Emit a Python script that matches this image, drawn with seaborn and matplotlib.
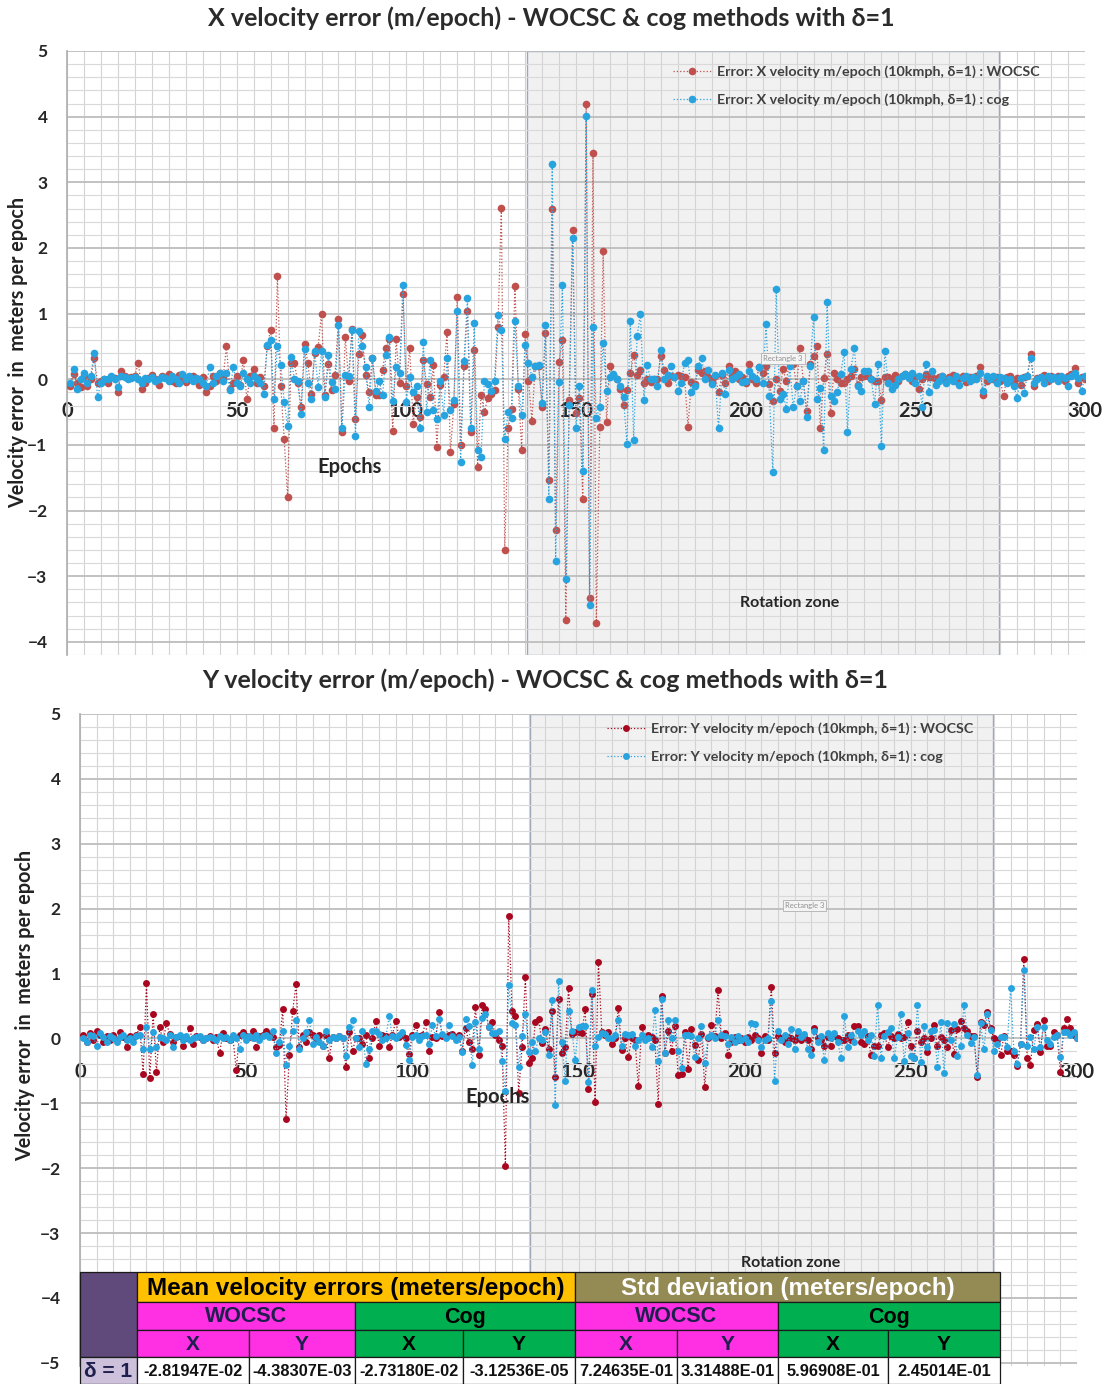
import numpy as np
import pandas as pd
import matplotlib
matplotlib.use('Agg')
import matplotlib.pyplot as plt
from matplotlib.patches import Rectangle
from matplotlib.ticker import MultipleLocator
import seaborn as sns

epochs = np.arange(1, 301)

# X velocity error, WOCSC (epochs 1..300)
x_wocsc = [
    -0.10, 0.08, -0.05, -0.12, 0.05, -0.10, 0.00, 0.33, -0.05, -0.02,
    0.00, -0.05, 0.03, 0.02, -0.20, 0.12, 0.05, 0.02, 0.03, 0.05,
    0.25, -0.15, -0.05, 0.02, 0.06, 0.00, -0.08, 0.05, 0.04, 0.08,
    -0.03, -0.05, 0.07, 0.02, -0.04, 0.00, 0.05, 0.02, -0.08, 0.03,
    -0.19, -0.10, 0.05, -0.03, 0.10, 0.02, 0.50, -0.15, -0.05, 0.05,
    -0.08, 0.30, -0.30, 0.05, 0.15, -0.05, 0.03, -0.10, 0.50, 0.75,
    -0.74, 1.58, -0.10, -0.91, -1.79, 0.25, 0.25, -0.05, -0.42, 0.53,
    0.25, -0.23, 0.40, 0.49, 1.00, -0.24, 0.24, -0.17, 0.07, 0.92,
    -0.81, 0.65, -0.03, 0.76, -0.60, 0.39, 0.67, 0.07, -0.20, 0.33,
    -0.24, -0.24, 0.14, 0.48, 0.62, -0.79, 0.61, -0.05, 1.30, -0.10,
    0.48, -0.68, -0.27, -0.58, 0.29, -0.07, -0.27, 0.21, -1.03, -0.09,
    0.04, 0.72, -1.11, -0.38, 1.26, -1.00, 0.20, 1.04, -0.81, 0.45,
    -1.33, -0.24, -0.50, -0.28, -0.23, -0.16, 0.79, 2.61, -2.60, -0.74,
    -0.46, 1.42, -0.15, -1.07, 0.69, -0.02, -0.63, 0.20, 0.20, -0.42,
    0.71, -1.54, 2.60, -2.30, 0.26, 0.60, -3.66, -0.31, 2.28, -0.52,
    -0.28, -1.83, 4.19, -3.33, 3.45, -3.72, -0.73, 1.95, -0.65, 0.20,
    0.06, 0.00, -0.15, -0.39, -0.16, 0.09, 0.37, 0.06, 0.14, -0.06,
    0.01, -0.04, 0.00, 0.00, 0.36, 0.14, -0.06, 0.05, 0.03, 0.06,
    0.05, 0.03, -0.72, -0.04, -0.07, 0.14, 0.09, 0.13, 0.04, -0.02,
    0.05, -0.20, 0.06, -0.05, 0.20, 0.05, 0.12, 0.00, 0.03, -0.05,
    0.23, 0.00, -0.05, 0.18, 0.10, 0.20, -0.07, -0.33, 0.00, -0.18,
    0.15, -0.03, 0.30, 0.24, -0.10, 0.47, -0.03, -0.48, 0.23, 0.36,
    0.50, -0.74, 0.02, 0.39, -0.51, 0.10, 0.00, -0.05, -0.05, 0.00,
    0.05, 0.16, -0.08, 0.03, 0.05, 0.05, 0.00, -0.03, -0.03, -0.31,
    0.03, 0.03, 0.00, 0.06, -0.02, 0.05, 0.08, 0.04, -0.03, 0.03,
    -0.15, 0.00, 0.08, 0.03, 0.03, 0.00, 0.03, 0.05, -0.02, 0.04,
    0.06, -0.03, 0.02, 0.05, -0.04, 0.03, 0.00, 0.05, 0.18, -0.24,
    -0.03, 0.02, 0.00, 0.04, -0.02, -0.25, 0.03, 0.05, -0.05, 0.02,
    -0.08, 0.03, 0.05, 0.38, -0.10, 0.02, 0.04, 0.06, -0.03, 0.05,
    0.02, 0.05, 0.03, -0.02, 0.05, 0.08, 0.17, -0.05, 0.03, 0.00,
]

# X velocity error, cog
x_cog = [
    -0.05, 0.15, -0.15, 0.00, 0.10, -0.05, 0.05, 0.40, -0.27, -0.05,
    0.00, 0.00, 0.05, 0.00, -0.12, 0.05, 0.03, 0.00, 0.02, 0.03,
    0.00, -0.05, 0.02, 0.00, 0.03, -0.02, 0.00, 0.04, 0.02, -0.03,
    0.05, 0.00, -0.05, 0.08, 0.00, 0.05, -0.03, 0.02, 0.00, -0.05,
    -0.10, 0.18, -0.05, 0.05, 0.10, -0.03, 0.10, -0.17, 0.18, -0.05,
    -0.10, 0.10, 0.00, -0.05, 0.05, 0.00, -0.05, -0.23, 0.52, 0.60,
    -0.30, 0.50, 0.22, -0.34, -0.71, 0.34, 0.00, -0.03, -0.53, 0.46,
    -0.05, -0.30, 0.43, -0.12, 0.43, -0.27, 0.37, -0.04, -0.15, 0.82,
    -0.75, 0.06, 0.05, 0.75, -0.87, 0.74, 0.50, 0.18, -0.42, 0.32,
    -0.18, -0.03, -0.24, 0.37, 0.65, -0.33, 0.18, 0.10, 1.44, -0.34,
    0.04, -0.20, -0.11, -0.74, 0.57, -0.50, 0.29, -0.47, -0.61, -0.03,
    -0.54, 0.33, -0.47, -0.31, 1.04, -1.26, 0.28, 1.24, -0.74, 0.86,
    -1.07, -1.18, -0.02, -0.07, -0.18, -0.02, 0.98, 0.75, -0.91, -0.50,
    -0.59, 0.88, -0.10, -0.55, 0.52, 0.25, 0.04, 0.20, 0.22, -0.36,
    0.83, -1.82, 3.28, -2.77, -0.04, 1.43, -3.05, -0.39, 2.15, -0.74,
    -0.10, -1.40, 4.01, -3.44, 0.79, -0.59, -0.43, 0.55, -0.18, 0.04,
    0.08, 0.00, -0.11, -0.27, -0.99, 0.89, -0.93, 0.66, 0.99, -0.31,
    0.21, 0.00, 0.00, -0.10, 0.45, 0.00, 0.06, 0.20, 0.03, -0.18,
    -0.05, 0.25, 0.29, -0.20, -0.10, 0.20, 0.33, 0.01, 0.14, -0.07,
    0.06, -0.75, 0.09, -0.23, 0.14, 0.01, 0.04, 0.08, -0.04, -0.02,
    0.13, 0.05, 0.00, 0.18, -0.05, 0.84, -0.25, -1.41, 1.37, -0.30,
    -0.23, -0.45, 0.20, -0.42, -0.10, -0.33, -0.03, -0.58, 0.20, 0.95,
    -0.30, -0.13, -1.08, 1.17, -0.25, -0.33, -0.20, 0.08, 0.41, -0.80,
    0.16, 0.47, -0.10, -0.18, 0.13, 0.13, 0.00, -0.37, 0.23, -1.02,
    0.43, -0.05, -0.15, -0.08, 0.00, 0.05, 0.08, 0.02, 0.10, -0.05,
    0.05, -0.42, 0.24, -0.19, 0.13, -0.08, -0.03, 0.05, -0.05, 0.00,
    -0.03, 0.05, -0.08, 0.02, 0.05, -0.02, 0.03, 0.00, 0.10, -0.18,
    0.05, 0.00, 0.05, -0.05, 0.03, 0.02, -0.05, 0.00, -0.10, -0.28,
    0.02, -0.21, 0.05, 0.33, -0.05, 0.00, 0.03, -0.05, 0.05, 0.00,
    0.03, -0.02, 0.05, 0.02, -0.10, 0.05, 0.10, 0.02, -0.18, 0.05,
]

# Y velocity error, WOCSC
y_wocsc = [
    0.05, -0.05, 0.08, -0.03, 0.12, 0.05, -0.05, 0.03, -0.02, 0.05,
    -0.03, 0.10, 0.02, -0.14, 0.03, 0.00, 0.05, 0.17, -0.55, 0.85,
    -0.61, 0.38, -0.52, 0.17, -0.05, 0.23, 0.07, -0.06, 0.02, 0.03,
    -0.12, 0.00, 0.16, -0.09, 0.03, 0.02, -0.02, 0.00, 0.03, -0.02,
    0.02, -0.23, 0.08, 0.00, -0.03, 0.02, -0.48, 0.05, 0.10, 0.03,
    0.02, 0.11, -0.13, 0.03, 0.05, 0.11, 0.05, 0.02, -0.14, -0.10,
    0.46, -1.24, -0.26, 0.42, 0.84, -0.14, 0.05, -0.05, 0.10, 0.05,
    0.00, 0.05, -0.11, 0.05, -0.31, 0.02, 0.00, 0.03, 0.00, -0.44,
    0.10, -0.19, 0.00, 0.00, -0.08, 0.05, -0.30, 0.00, 0.27, -0.12,
    0.05, 0.03, -0.14, 0.05, 0.27, 0.02, 0.05, 0.00, -0.24, 0.05,
    0.20, 0.03, 0.05, 0.25, -0.19, 0.02, 0.00, 0.40, 0.03, 0.02,
    0.05, 0.07, 0.02, 0.05, -0.19, 0.16, -0.06, -0.16, 0.48, -0.26,
    0.52, 0.46, 0.17, 0.25, 0.05, -0.02, -0.12, -1.96, 1.89, 0.42,
    0.35, -0.84, -0.13, 0.94, -0.38, -0.31, 0.25, 0.30, -0.07, 0.15,
    -0.16, 0.42, -0.60, 0.60, -0.23, -0.13, 0.77, 0.07, 0.10, 0.10,
    0.08, 0.46, -0.78, 0.68, -0.98, 1.17, 0.10, 0.05, 0.10, -0.08,
    0.00, 0.47, -0.18, 0.00, -0.29, 0.00, -0.02, -0.74, 0.17, 0.00,
    0.05, 0.02, -0.03, -1.01, 0.66, -0.23, 0.12, -0.19, 0.19, -0.57,
    -0.55, 0.10, -0.47, 0.15, -0.10, -0.34, 0.07, -0.75, 0.00, 0.20,
    0.03, 0.74, 0.00, 0.08, -0.25, -0.05, 0.02, -0.03, 0.00, -0.05,
    0.02, -0.03, 0.05, 0.00, -0.23, 0.03, -0.02, 0.79, -0.22, 0.03,
    0.00, -0.06, 0.02, 0.01, -0.02, 0.05, -0.03, 0.02, -0.03, -0.17,
    0.16, 0.00, -0.03, -0.11, 0.02, -0.11, 0.03, 0.00, -0.03, -0.02,
    0.05, -0.03, 0.19, 0.19, -0.05, -0.09, 0.03, -0.25, -0.12, -0.12,
    0.05, 0.08, -0.13, 0.03, 0.00, 0.06, 0.00, 0.02, 0.26, -0.12,
    -0.31, 0.12, -0.06, 0.00, -0.21, 0.00, 0.20, -0.11, 0.02, -0.03,
    -0.13, 0.13, -0.24, 0.15, 0.27, 0.16, 0.12, 0.03, 0.04, -0.60,
    0.26, 0.20, 0.41, 0.16, 0.00, -0.02, -0.26, 0.03, -0.19, -0.19,
    -0.26, -0.43, -0.09, 1.22, -0.30, -0.41, 0.13, 0.22, -0.21, 0.29,
    -0.11, -0.11, 0.10, 0.05, -0.52, 0.16, 0.30, 0.16, 0.05, 0.00,
]

# Y velocity error, cog
y_cog = [
    0.00, -0.05, 0.05, 0.03, -0.12, 0.08, 0.02, -0.05, 0.03, 0.00,
    -0.05, 0.02, 0.05, -0.03, 0.00, -0.05, 0.03, 0.05, -0.16, 0.17,
    -0.16, 0.10, -0.14, 0.02, 0.01, -0.03, 0.05, -0.14, 0.02, 0.05,
    -0.03, 0.03, -0.03, 0.00, 0.02, 0.03, -0.02, 0.00, 0.02, 0.00,
    -0.02, 0.03, 0.00, 0.02, -0.03, 0.05, 0.00, -0.16, 0.05, -0.03,
    0.03, 0.00, 0.05, -0.02, 0.03, 0.05, 0.02, 0.11, -0.23, -0.05,
    0.12, -0.41, -0.12, 0.12, 0.29, -0.16, 0.00, 0.10, 0.28, -0.08,
    0.02, -0.05, -0.12, 0.12, -0.03, 0.02, 0.00, 0.03, 0.00, -0.27,
    0.17, 0.28, 0.00, -0.13, 0.11, -0.39, -0.17, 0.12, 0.12, 0.07,
    -0.03, 0.00, 0.34, 0.03, 0.00, 0.05, 0.10, -0.10, -0.34, 0.02,
    0.05, -0.02, 0.03, 0.05, -0.09, 0.20, 0.03, 0.30, 0.06, 0.00,
    0.20, 0.03, -0.03, 0.02, -0.21, 0.30, 0.19, -0.41, 0.26, -0.17,
    0.32, 0.38, 0.18, 0.08, 0.08, 0.11, -0.35, -0.81, 0.83, 0.24,
    0.21, -0.44, 0.04, 0.38, -0.21, -0.06, -0.20, 0.00, -0.03, 0.10,
    -0.25, 0.59, -1.02, 0.88, -0.05, -0.65, 0.42, 0.12, -0.33, 0.18,
    0.19, 0.19, -0.67, 0.74, -0.12, 0.02, 0.08, 0.07, 0.00, 0.01,
    0.05, 0.28, -0.12, 0.07, 0.05, 0.07, -0.12, -0.03, 0.05, -0.03,
    0.00, -0.13, 0.43, -0.35, 0.60, -0.23, 0.29, 0.00, 0.28, -0.20,
    -0.45, 0.05, 0.05, 0.03, -0.29, 0.00, 0.19, -0.38, 0.02, 0.05,
    0.00, 0.29, 0.05, 0.03, -0.08, 0.02, -0.05, 0.03, -0.03, 0.00,
    -0.05, 0.23, 0.22, -0.03, -0.13, -0.03, 0.00, 0.57, -0.65, 0.11,
    -0.03, 0.05, -0.09, 0.15, -0.16, 0.12, 0.02, 0.06, -0.16, -0.25,
    0.11, -0.06, 0.03, -0.34, 0.08, 0.00, 0.08, -0.05, -0.31, 0.34,
    -0.14, 0.05, -0.05, 0.12, 0.05, 0.12, -0.02, 0.05, -0.27, 0.52,
    -0.31, 0.03, 0.10, 0.16, -0.30, 0.02, 0.37, -0.35, 0.08, -0.27,
    -0.30, 0.52, -0.37, 0.19, -0.14, 0.12, 0.13, -0.44, 0.26, -0.53,
    0.24, -0.03, 0.22, -0.27, -0.12, 0.52, 0.05, -0.07, 0.02, -0.56,
    0.23, -0.17, 0.38, 0.13, -0.19, -0.08, 0.02, 0.02, -0.13, 0.78,
    -0.19, -0.40, -0.09, 1.06, -0.12, 0.02, -0.16, 0.18, -0.13, 0.18,
    -0.03, -0.08, 0.02, 0.05, -0.29, 0.10, 0.10, 0.05, 0.10, 0.00,
]

# summary table
groups = ['Mean velocity errors (meters/epoch)', 'Std deviation (meters/epoch)']
methods = ['WOCSC', 'Cog']
components = ['X', 'Y']
row_label = 'δ = 1'
mean_vals = [-2.81947e-02, -4.38307e-03, -2.73180e-02, -3.12536e-05]
std_vals = [7.24635e-01, 3.31488e-01, 5.96908e-01, 2.45014e-01]

rot_start, rot_end = 135.5, 274.8

sns.set_theme(style='white')
plt.rcParams['font.family'] = ['Lato', 'DejaVu Sans']

W, H = 1105, 1384
fig = plt.figure(figsize=(W / 100, H / 100), dpi=100)


def fx(px):
    return px / W


def fy(py):
    return 1 - py / H


def panel(ax, w_vals, c_vals, axis_name, w_color, c_color, msize, ylim, xpad):
    df = pd.DataFrame({'Epoch': epochs, 'WOCSC': w_vals, 'cog': c_vals})
    ax.axvspan(rot_start, rot_end, facecolor='#F1F1F1', edgecolor='#9AA6BA',
               lw=1.0, zorder=0.3)
    sns.lineplot(data=df, x='Epoch', y='WOCSC', ax=ax, color=w_color,
                 marker='o', markersize=msize, markeredgewidth=0,
                 linestyle=':', linewidth=0.9, zorder=3,
                 label='Error: %s velocity m/epoch (10kmph, δ=1) : WOCSC' % axis_name)
    sns.lineplot(data=df, x='Epoch', y='cog', ax=ax, color=c_color,
                 marker='o', markersize=msize, markeredgewidth=0,
                 linestyle=':', linewidth=0.9, zorder=4,
                 label='Error: %s velocity m/epoch (10kmph, δ=1) : cog' % axis_name)
    ax.set_xlim(0, 300)
    ax.set_ylim(*ylim)
    ax.xaxis.set_major_locator(MultipleLocator(50))
    ax.xaxis.set_minor_locator(MultipleLocator(5))
    ax.yaxis.set_major_locator(MultipleLocator(1))
    ax.yaxis.set_minor_locator(MultipleLocator(0.2))
    ax.set_axisbelow(True)
    ax.grid(which='major', axis='y', color='#BDBDBD', lw=1.3)
    ax.grid(which='minor', axis='y', color='#D9D9D9', lw=0.8)
    ax.grid(which='both', axis='x', color='#D3D3D3', lw=0.8)
    ax.spines['bottom'].set_position(('data', 0))
    ax.spines['bottom'].set_visible(False)
    ax.spines['top'].set_visible(False)
    ax.spines['right'].set_visible(False)
    ax.spines['left'].set_color('#B0B0B0')
    ax.tick_params(axis='x', which='both', length=0, pad=xpad, labelsize=14.5)
    ax.tick_params(axis='y', which='both', length=0, pad=14, labelsize=12.5)
    for t in ax.get_xticklabels() + ax.get_yticklabels():
        t.set_fontweight('bold')
    ax.set_xlabel('')
    ax.set_ylabel('')
    ax.set_facecolor('white')


leg_kw = dict(bbox_transform=fig.transFigure, frameon=False, loc='center left',
              handlelength=2.7, handletextpad=0.35, labelspacing=1.1,
              borderaxespad=0, borderpad=0, labelcolor='#404040',
              prop={'weight': 'bold', 'size': 10.3})
box_kw = dict(boxstyle='square,pad=0.25', fc='#F4F4F4', ec='#B0B0B0', lw=0.6)

# top panel: X velocity
ax1 = fig.add_axes([fx(67), fy(655), fx(1085) - fx(67), (655 - 51) / H])
panel(ax1, x_wocsc, x_cog, 'X', '#C0504D', '#27A4DF', 5.5, (-4.2, 5), 16)
h, l = ax1.get_legend_handles_labels()
ax1.legend(h, l, bbox_to_anchor=(fx(673), fy(85.5)), **leg_kw)
ax1.text(83.4, -1.33, 'Epochs', ha='center', va='center', fontsize=14.5, fontweight='bold')
ax1.text(213, -3.41, 'Rotation zone', ha='center', va='center', fontsize=11.5, fontweight='bold')
ax1.text(211, 0.32, 'Rectangle 3', ha='center', va='center', fontsize=5.5, color='#909090',
         bbox=box_kw, zorder=5)

# bottom panel: Y velocity
ax2 = fig.add_axes([fx(80), fy(1366), fx(1077) - fx(80), (1366 - 714) / H])
panel(ax2, y_wocsc, y_cog, 'Y', '#A8071F', '#27A4DF', 5.0, (-5.05, 5), 17)
h, l = ax2.get_legend_handles_labels()
ax2.legend(h, l, bbox_to_anchor=(fx(607), fy(742.5)), **leg_kw)
ax2.text(125.5, -0.91, 'Epochs', ha='center', va='center', fontsize=14.5, fontweight='bold')
ax2.text(213.7, -3.46, 'Rotation zone', ha='center', va='center', fontsize=11.5, fontweight='bold')
ax2.text(218, 2.05, 'Rectangle 3', ha='center', va='center', fontsize=5.5, color='#909090',
         bbox=box_kw, zorder=5)

# titles and y labels
fig.text(fx(551), fy(18), 'X velocity error (m/epoch) - WOCSC & cog methods with δ=1',
         ha='center', va='center', fontsize=18, fontweight='bold', color='#2b2b2b')
fig.text(fx(545), fy(680), 'Y velocity error (m/epoch) - WOCSC & cog methods with δ=1',
         ha='center', va='center', fontsize=18, fontweight='bold', color='#2b2b2b')
fig.text(fx(18), fy(352), 'Velocity error  in  meters per epoch', rotation=90,
         ha='center', va='center', fontsize=14.2, fontweight='bold', color='#222222')
fig.text(fx(25), fy(1005), 'Velocity error  in  meters per epoch', rotation=90,
         ha='center', va='center', fontsize=14.2, fontweight='bold', color='#222222')

# summary table drawn over the lower chart (pixel coordinates)
tab = fig.add_axes([0, 0, 1, 1], zorder=10)
tab.set_xlim(0, W)
tab.set_ylim(H, 0)
tab.axis('off')
tab.patch.set_alpha(0)

rows = [1272, 1302, 1330, 1357, 1384]
col_sets = [[137, 249, 355, 463, 575], [575, 677, 778, 888, 1000]]
tfont = 'Liberation Sans'


def cell(x0, x1, y0, y1, fc, text='', color='black', size=12, weight='bold'):
    tab.add_patch(Rectangle((x0, y0), x1 - x0, y1 - y0, facecolor=fc,
                            edgecolor='#1a1a1a', lw=0.9))
    if text:
        tab.text((x0 + x1) / 2, (y0 + y1) / 2 + 1, text, ha='center', va='center',
                 fontsize=size, fontweight=weight, color=color, family=tfont)


cell(80, 137, rows[0], rows[3], '#604A7B')
cell(80, 137, rows[3], rows[4], '#CCC0DA', row_label, '#1F1F4F', 15)
group_colors = [('#FFC000', 'black'), ('#948A54', 'white')]
method_colors = ['#FF2FE3', '#00B050']
method_text = ['#1F1F4F', 'black']
for g, cols in enumerate(col_sets):
    vals = mean_vals if g == 0 else std_vals
    cell(cols[0], cols[4], rows[0], rows[1], group_colors[g][0], groups[g],
         group_colors[g][1], 17.5)
    for m in range(2):
        cell(cols[2 * m], cols[2 * m + 2], rows[1], rows[2], method_colors[m],
             methods[m], method_text[m], 15.5)
        for k in range(2):
            i = 2 * m + k
            cell(cols[i], cols[i + 1], rows[2], rows[3], method_colors[m],
                 components[k], method_text[m], 15)
            cell(cols[i], cols[i + 1], rows[3], rows[4], 'white',
                 '%.5E' % vals[i], '#111111', 11.8, 'bold')

fig.savefig('out.png', dpi=100)
